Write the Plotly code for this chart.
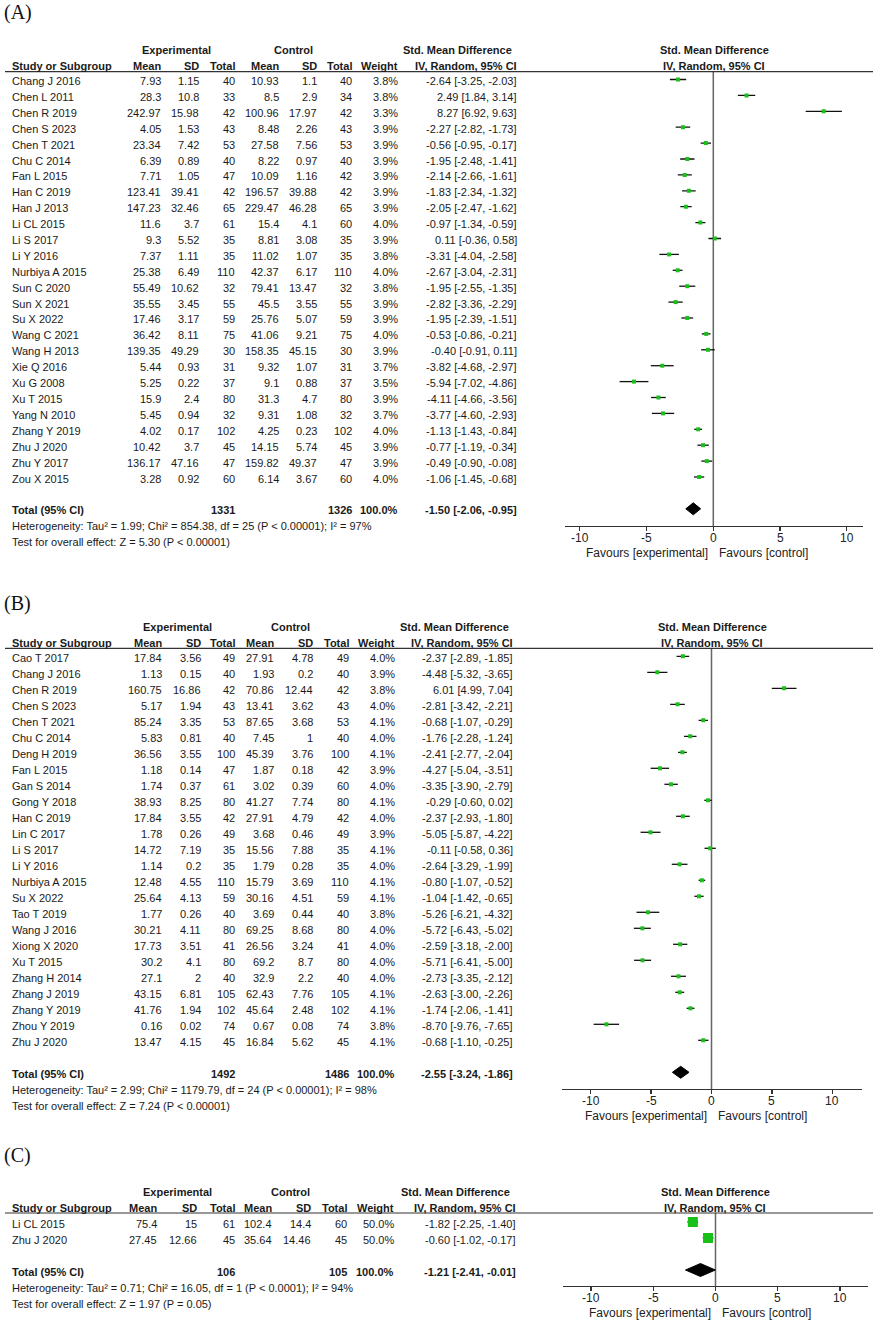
import plotly.graph_objects as go

W, H = 880, 1321
FONT = "Liberation Sans, Arial, sans-serif"
SERIF = "Liberation Serif, Times New Roman, serif"
TXT = "#1a1a1a"
GREEN = "#19C019"

# ---------------- Panel A data ----------------
a_study = ["Chang J 2016", "Chen L 2011", "Chen R 2019", "Chen S 2023", "Chen T 2021", "Chu C 2014",
           "Fan L 2015", "Han C 2019", "Han J 2013", "Li CL 2015", "Li S 2017", "Li Y 2016",
           "Nurbiya A 2015", "Sun C 2020", "Sun X 2021", "Su X 2022", "Wang C 2021", "Wang H 2013",
           "Xie Q 2016", "Xu G 2008", "Xu T 2015", "Yang N 2010", "Zhang Y 2019", "Zhu J 2020",
           "Zhu Y 2017", "Zou X 2015"]
a_exp_mean = [7.93, 28.3, 242.97, 4.05, 23.34, 6.39, 7.71, 123.41, 147.23, 11.6, 9.3, 7.37, 25.38,
              55.49, 35.55, 17.46, 36.42, 139.35, 5.44, 5.25, 15.9, 5.45, 4.02, 10.42, 136.17, 3.28]
a_exp_sd = [1.15, 10.8, 15.98, 1.53, 7.42, 0.89, 1.05, 39.41, 32.46, 3.7, 5.52, 1.11, 6.49, 10.62,
            3.45, 3.17, 8.11, 49.29, 0.93, 0.22, 2.4, 0.94, 0.17, 3.7, 47.16, 0.92]
a_exp_n = [40, 33, 42, 43, 53, 40, 47, 42, 65, 61, 35, 35, 110, 32, 55, 59, 75, 30, 31, 37, 80, 32,
           102, 45, 47, 60]
a_ctl_mean = [10.93, 8.5, 100.96, 8.48, 27.58, 8.22, 10.09, 196.57, 229.47, 15.4, 8.81, 11.02, 42.37,
              79.41, 45.5, 25.76, 41.06, 158.35, 9.32, 9.1, 31.3, 9.31, 4.25, 14.15, 159.82, 6.14]
a_ctl_sd = [1.1, 2.9, 17.97, 2.26, 7.56, 0.97, 1.16, 39.88, 46.28, 4.1, 3.08, 1.07, 6.17, 13.47, 3.55,
            5.07, 9.21, 45.15, 1.07, 0.88, 4.7, 1.08, 0.23, 5.74, 49.37, 3.67]
a_ctl_n = [40, 34, 42, 43, 53, 40, 42, 42, 65, 60, 35, 35, 110, 32, 55, 59, 75, 30, 31, 37, 80, 32,
           102, 45, 47, 60]
a_weight = [3.8, 3.8, 3.3, 3.9, 3.9, 3.9, 3.9, 3.9, 3.9, 4.0, 3.9, 3.8, 4.0, 3.8, 3.9, 3.9, 4.0, 3.9,
            3.7, 3.5, 3.9, 3.7, 4.0, 3.9, 3.9, 4.0]
a_smd = [-2.64, 2.49, 8.27, -2.27, -0.56, -1.95, -2.14, -1.83, -2.05, -0.97, 0.11, -3.31, -2.67,
         -1.95, -2.82, -1.95, -0.53, -0.40, -3.82, -5.94, -4.11, -3.77, -1.13, -0.77, -0.49, -1.06]
a_lo = [-3.25, 1.84, 6.92, -2.82, -0.95, -2.48, -2.66, -2.34, -2.47, -1.34, -0.36, -4.04, -3.04,
        -2.55, -3.36, -2.39, -0.86, -0.91, -4.68, -7.02, -4.66, -4.60, -1.43, -1.19, -0.90, -1.45]
a_hi = [-2.03, 3.14, 9.63, -1.73, -0.17, -1.41, -1.61, -1.32, -1.62, -0.59, 0.58, -2.58, -2.31,
        -1.35, -2.29, -1.51, -0.21, 0.11, -2.97, -4.86, -3.56, -2.93, -0.84, -0.34, -0.08, -0.68]
a_total_n = [1331, 1326]
a_total_weight = 100.0
a_total_est = [-1.50, -2.06, -0.95]
a_het = "Heterogeneity: Tau² = 1.99; Chi² = 854.38, df = 25 (P < 0.00001); I² = 97%"
a_test = "Test for overall effect: Z = 5.30 (P < 0.00001)"

# ---------------- Panel B data ----------------
b_study = ["Cao T 2017", "Chang J 2016", "Chen R 2019", "Chen S 2023", "Chen T 2021", "Chu C 2014",
           "Deng H 2019", "Fan L 2015", "Gan S 2014", "Gong Y 2018", "Han C 2019", "Lin C 2017",
           "Li S 2017", "Li Y 2016", "Nurbiya A 2015", "Su X 2022", "Tao T 2019", "Wang J 2016",
           "Xiong X 2020", "Xu T 2015", "Zhang H 2014", "Zhang J 2019", "Zhang Y 2019",
           "Zhou Y 2019", "Zhu J 2020"]
b_exp_mean = [17.84, 1.13, 160.75, 5.17, 85.24, 5.83, 36.56, 1.18, 1.74, 38.93, 17.84, 1.78, 14.72,
              1.14, 12.48, 25.64, 1.77, 30.21, 17.73, 30.2, 27.1, 43.15, 41.76, 0.16, 13.47]
b_exp_sd = [3.56, 0.15, 16.86, 1.94, 3.35, 0.81, 3.55, 0.14, 0.37, 8.25, 3.55, 0.26, 7.19, 0.2, 4.55,
            4.13, 0.26, 4.11, 3.51, 4.1, 2, 6.81, 1.94, 0.02, 4.15]
b_exp_n = [49, 40, 42, 43, 53, 40, 100, 47, 61, 80, 42, 49, 35, 35, 110, 59, 40, 80, 41, 80, 40, 105,
           102, 74, 45]
b_ctl_mean = [27.91, 1.93, 70.86, 13.41, 87.65, 7.45, 45.39, 1.87, 3.02, 41.27, 27.91, 3.68, 15.56,
              1.79, 15.79, 30.16, 3.69, 69.25, 26.56, 69.2, 32.9, 62.43, 45.64, 0.67, 16.84]
b_ctl_sd = [4.78, 0.2, 12.44, 3.62, 3.68, 1, 3.76, 0.18, 0.39, 7.74, 4.79, 0.46, 7.88, 0.28, 3.69,
            4.51, 0.44, 8.68, 3.24, 8.7, 2.2, 7.76, 2.48, 0.08, 5.62]
b_ctl_n = [49, 40, 42, 43, 53, 40, 100, 42, 60, 80, 42, 49, 35, 35, 110, 59, 40, 80, 41, 80, 40, 105,
           102, 74, 45]
b_weight = [4.0, 3.9, 3.8, 4.0, 4.1, 4.0, 4.1, 3.9, 4.0, 4.1, 4.0, 3.9, 4.1, 4.0, 4.1, 4.1, 3.8, 4.0,
            4.0, 4.0, 4.0, 4.1, 4.1, 3.8, 4.1]
b_smd = [-2.37, -4.48, 6.01, -2.81, -0.68, -1.76, -2.41, -4.27, -3.35, -0.29, -2.37, -5.05, -0.11,
         -2.64, -0.80, -1.04, -5.26, -5.72, -2.59, -5.71, -2.73, -2.63, -1.74, -8.70, -0.68]
b_lo = [-2.89, -5.32, 4.99, -3.42, -1.07, -2.28, -2.77, -5.04, -3.90, -0.60, -2.93, -5.87, -0.58,
        -3.29, -1.07, -1.42, -6.21, -6.43, -3.18, -6.41, -3.35, -3.00, -2.06, -9.76, -1.10]
b_hi = [-1.85, -3.65, 7.04, -2.21, -0.29, -1.24, -2.04, -3.51, -2.79, 0.02, -1.80, -4.22, 0.36,
        -1.99, -0.52, -0.65, -4.32, -5.02, -2.00, -5.00, -2.12, -2.26, -1.41, -7.65, -0.25]
b_total_n = [1492, 1486]
b_total_weight = 100.0
b_total_est = [-2.55, -3.24, -1.86]
b_het = "Heterogeneity: Tau² = 2.99; Chi² = 1179.79, df = 24 (P < 0.00001); I² = 98%"
b_test = "Test for overall effect: Z = 7.24 (P < 0.00001)"

# ---------------- Panel C data ----------------
c_study = ["Li CL 2015", "Zhu J 2020"]
c_exp_mean = [75.4, 27.45]
c_exp_sd = [15, 12.66]
c_exp_n = [61, 45]
c_ctl_mean = [102.4, 35.64]
c_ctl_sd = [14.4, 14.46]
c_ctl_n = [60, 45]
c_weight = [50.0, 50.0]
c_smd = [-1.82, -0.60]
c_lo = [-2.25, -1.02]
c_hi = [-1.40, -0.17]
c_total_n = [106, 105]
c_total_weight = 100.0
c_total_est = [-1.21, -2.41, -0.01]
c_het = "Heterogeneity: Tau² = 0.71; Chi² = 16.05, df = 1 (P < 0.0001); I² = 94%"
c_test = "Test for overall effect: Z = 1.97 (P = 0.05)"

tick_vals = [-10, -5, 0, 5, 10]
tick_text = ["-10", "-5", "0", "5", "10"]

# ---------------- layout geometry (pixels) ----------------
geo_a = dict(label="(A)", label_y=12.5, cols=[11.7, 161, 199.3, 235, 278.7, 316.7, 352.3, 398.3, 517.3],
             exp_c=176, ctl_c=293.5, smd_r=512.3, h1=50, h2=65.7, line=71.7, row0=79.5, dy=15.9,
             axis_y=526, zero=713.3, scale=13.35, ax0=565, ax1=862.7, hdr_c=714, mk=4, dh=6)
geo_b = dict(label="(B)", label_y=603, cols=[11.7, 162.3, 201, 235, 274, 313.3, 348.7, 395.3, 513.3],
             exp_c=177, ctl_c=290, smd_r=509, h1=627, h2=643, line=648.3, row0=656.3, dy=16.0,
             axis_y=1089, zero=711.5, scale=12.08, ax0=562, ax1=862, hdr_c=712, mk=4, dh=6)
geo_c = dict(label="(C)", label_y=1155, cols=[11.7, 157.3, 197.3, 235, 271.7, 310.7, 346.7, 394.3, 515.7],
             exp_c=177, ctl_c=290.8, smd_r=510, h1=1191.7, h2=1208.3, line=1213, row0=1222, dy=16.0,
             axis_y=1286, zero=715.5, scale=12.45, ax0=563.3, ax1=868.3, hdr_c=715, mk=10, dh=6.5)

fig = go.Figure()
annotations = []
shapes = []


def txt(x, y, s, anchor="left", size=11, bold=False, family=FONT, color=TXT, xref="paper"):
    if bold:
        s = "<b>" + s + "</b>"
    xv = x / W if xref == "paper" else x
    annotations.append(dict(x=xv, y=1 - y / H, xref=xref, yref="paper", text=s, showarrow=False,
                            xanchor=anchor, yanchor="middle", borderpad=0, borderwidth=0,
                            font=dict(family=family, size=size, color=color)))


def fmt(v):
    return f"{v:g}"


def panel(k, g, study, em, esd, en, cm, csd, cn, wt, smd, lo, hi, tot_n, tot_w, tot_est, het, test):
    cols = g["cols"]
    toff = 1.5
    xa = "x" if k == 1 else f"x{k}"
    ya = "y" if k == 1 else f"y{k}"
    # panel label
    txt(4, g["label_y"], g["label"], size=20, family=SERIF, color="#111")
    # headers
    txt(g["exp_c"], g["h1"], "Experimental", anchor="center", bold=True)
    txt(g["ctl_c"], g["h1"], "Control", anchor="center", bold=True)
    txt(g["smd_r"], g["h1"], "Std. Mean Difference", anchor="right", bold=True)
    txt(g["hdr_c"], g["h1"], "Std. Mean Difference", anchor="center", bold=True)
    txt(cols[0], g["h2"], "Study or Subgroup", bold=True)
    for c, h in zip(cols[1:], ["Mean", "SD", "Total", "Mean", "SD", "Total", "Weight", "IV, Random, 95% CI"]):
        txt(c, g["h2"], h, anchor="right", bold=True)
    txt(g["hdr_c"], g["h2"], "IV, Random, 95% CI", anchor="center", bold=True)
    shapes.append(dict(type="line", xref="paper", yref="paper", x0=5 / W, x1=873 / W,
                       y0=1 - g["line"] / H, y1=1 - g["line"] / H, line=dict(color="#333", width=1.2)))
    # rows
    n = len(study)
    for i in range(n):
        y = g["row0"] + i * g["dy"] + toff
        txt(cols[0], y, study[i])
        vals = [fmt(em[i]), fmt(esd[i]), str(en[i]), fmt(cm[i]), fmt(csd[i]), str(cn[i]),
                f"{wt[i]:.1f}%", f"{smd[i]:.2f} [{lo[i]:.2f}, {hi[i]:.2f}]"]
        for c, v in zip(cols[1:], vals):
            txt(c, y, v, anchor="right")
    # totals
    ty = g["row0"] + (n + 1) * g["dy"] + toff
    txt(cols[0], ty, "Total (95% CI)", bold=True)
    txt(cols[3], ty, str(tot_n[0]), anchor="right", bold=True)
    txt(cols[6], ty, str(tot_n[1]), anchor="right", bold=True)
    txt(cols[7], ty, f"{tot_w:.1f}%", anchor="right", bold=True)
    txt(cols[8], ty, f"{tot_est[0]:.2f} [{tot_est[1]:.2f}, {tot_est[2]:.2f}]", anchor="right", bold=True)
    txt(cols[0], ty + g["dy"], het)
    txt(cols[0], ty + 2 * g["dy"], test)
    # tick labels (positioned on the axis scale)
    for tv, tt in zip(tick_vals, tick_text):
        txt(tv, g["axis_y"] + 11.5, tt, anchor="center", size=12, color="#222", xref=xa)
    # favours
    fy = g["axis_y"] + 26.5
    txt(g["zero"] - 5, fy, "Favours [experimental]", anchor="right", size=12, color="#222")
    txt(g["zero"] + 6, fy, "Favours [control]", anchor="left", size=12, color="#222")

    rows = list(range(n))
    fig.add_trace(go.Scatter(
        x=smd, y=rows, mode="markers", xaxis=xa, yaxis=ya, showlegend=False, hoverinfo="skip",
        marker=dict(symbol="square", size=g["mk"], color=GREEN, line=dict(width=0)),
        error_x=dict(type="data", symmetric=False, array=[h - s for h, s in zip(hi, smd)],
                     arrayminus=[s - l for s, l in zip(smd, lo)], width=0, thickness=1.3, color="#111")))
    tr = n + 1
    hh = g["dh"] / g["dy"]
    fig.add_trace(go.Scatter(
        x=[tot_est[1], tot_est[0], tot_est[2], tot_est[0], tot_est[1]],
        y=[tr, tr - hh, tr, tr + hh, tr], mode="lines", fill="toself", fillcolor="black",
        line=dict(color="black", width=1), xaxis=xa, yaxis=ya, showlegend=False, hoverinfo="skip"))
    lay = {}
    lay["xaxis" if k == 1 else f"xaxis{k}"] = dict(
        domain=[g["ax0"] / W, g["ax1"] / W],
        range=[(g["ax0"] - g["zero"]) / g["scale"], (g["ax1"] - g["zero"]) / g["scale"]],
        anchor=ya, tickvals=tick_vals, showticklabels=False, showline=True, linecolor="#333",
        linewidth=1.2, ticks="outside", ticklen=4, tickcolor="#333", tickwidth=1.2, showgrid=False,
        zeroline=False, fixedrange=True)
    lay["yaxis" if k == 1 else f"yaxis{k}"] = dict(
        domain=[1 - g["axis_y"] / H, 1 - g["line"] / H],
        range=[(g["axis_y"] - g["row0"]) / g["dy"], (g["line"] - g["row0"]) / g["dy"]],
        anchor=xa, visible=False, fixedrange=True)
    fig.update_layout(**lay)
    shapes.append(dict(type="line", xref=xa, yref=f"{ya} domain", x0=0, x1=0, y0=0, y1=1,
                       line=dict(color="#666", width=1.5), layer="below"))


panel(1, geo_a, a_study, a_exp_mean, a_exp_sd, a_exp_n, a_ctl_mean, a_ctl_sd, a_ctl_n, a_weight,
      a_smd, a_lo, a_hi, a_total_n, a_total_weight, a_total_est, a_het, a_test)
panel(2, geo_b, b_study, b_exp_mean, b_exp_sd, b_exp_n, b_ctl_mean, b_ctl_sd, b_ctl_n, b_weight,
      b_smd, b_lo, b_hi, b_total_n, b_total_weight, b_total_est, b_het, b_test)
panel(3, geo_c, c_study, c_exp_mean, c_exp_sd, c_exp_n, c_ctl_mean, c_ctl_sd, c_ctl_n, c_weight,
      c_smd, c_lo, c_hi, c_total_n, c_total_weight, c_total_est, c_het, c_test)

fig.update_layout(width=W, height=H, autosize=False, margin=dict(l=0, r=0, t=0, b=0, pad=0),
                  paper_bgcolor="white", plot_bgcolor="rgba(0,0,0,0)", showlegend=False,
                  annotations=annotations, shapes=shapes)

fig.write_html("out.html", config={"displayModeBar": False, "staticPlot": True},
               post_script="document.body.style.margin='0';document.body.style.padding='0';")
